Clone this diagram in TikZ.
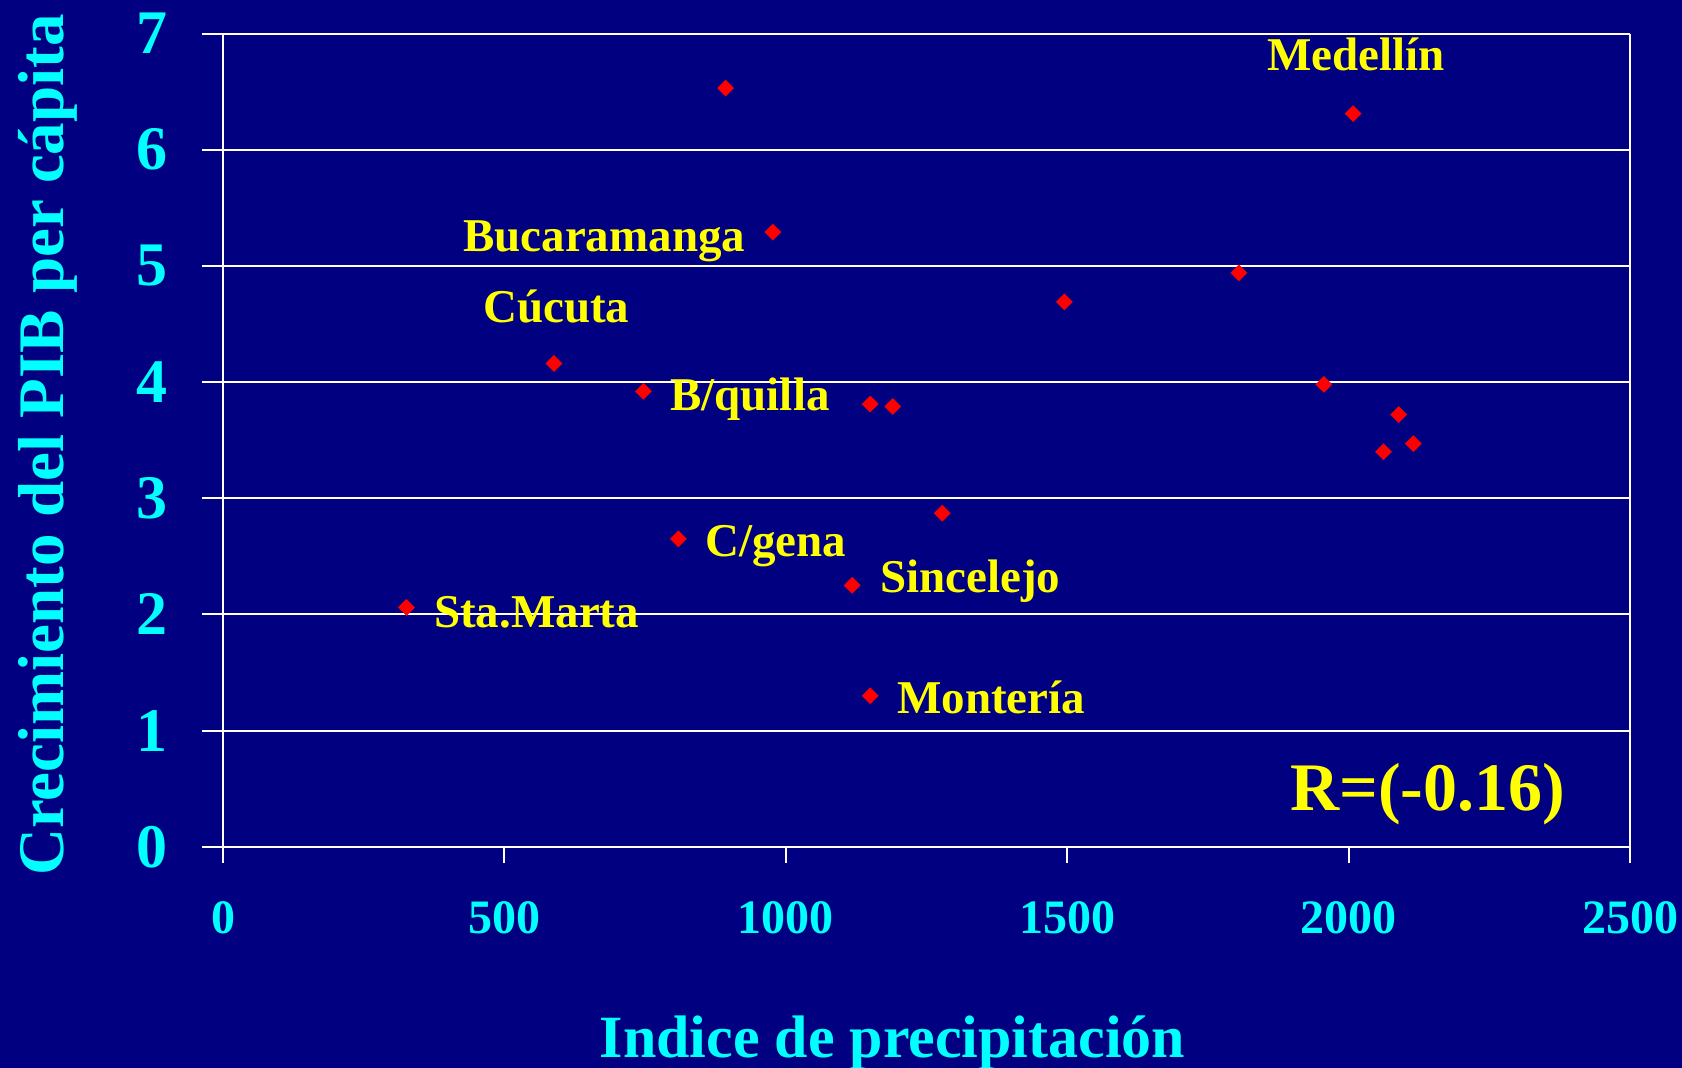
\documentclass[tikz,border=0pt]{standalone}
\usepackage{fontspec}
\setmainfont{Liberation Serif}
\usepackage{tikz}
\usetikzlibrary{shapes.geometric,positioning}
\definecolor{fondo}{RGB}{0,0,128}
\definecolor{cian}{RGB}{0,255,255}
\definecolor{amarillo}{RGB}{255,255,0}
\tikzset{
  rejilla/.style={draw=white, line width=2pt},
  punto/.style={diamond, fill=red, inner sep=0pt, minimum size=17pt},
  ciudad/.style={anchor=base west, inner sep=0pt, text=amarillo, font=\bfseries\fontsize{47}{56}\selectfont},
  marcay/.style={anchor=east, inner sep=0pt, text=cian, font=\bfseries\fontsize{62}{70}\selectfont},
  marcax/.style={anchor=base, inner sep=0pt, text=cian, font=\bfseries\fontsize{48}{56}\selectfont},
}

\begin{document}
\begin{tikzpicture}[x=1pt, y=-1pt]
		\useasboundingbox (0,0) rectangle (1682,1068);
		\fill[fondo] (0,0) rectangle (1682,1068);
		\begin{scope}[shift={(223,846.7)}, xscale=0.5628, yscale=-116.17]
			\foreach \v in {0,...,7}
				\draw[rejilla] (-37.3,\v) -- (2500,\v);
			\draw[rejilla] (0,-0.138) -- (0,7);
			\draw[rejilla] (2500,-0.138) -- (2500,7);
			\foreach \u in {500,1000,1500,2000}
				\draw[rejilla] (\u,-0.138) -- (\u,0);
			\foreach \v in {0,...,7}
				\node[marcay] (ey\v) at (-97.7,\v) {\v};
			\foreach \u in {0,500,...,2500}
				\node[marcax] (ex\u) at (\u,-0.751) {\u};
			\node[punto] (p1) at (893,6.53) {};
			\node[punto] (medellin) at (2008,6.31) {};
			\node[punto] (bucaramanga) at (977,5.29) {};
			\node[punto] (p4) at (1805,4.94) {};
			\node[punto] (p5) at (1495,4.69) {};
			\node[punto] (cucuta) at (588,4.16) {};
			\node[punto] (barranquilla) at (747,3.92) {};
			\node[punto] (p8) at (1150,3.81) {};
			\node[punto] (p9) at (1190,3.79) {};
			\node[punto] (p10) at (1956,3.98) {};
			\node[punto] (p11) at (2089,3.72) {};
			\node[punto] (p12) at (2115,3.47) {};
			\node[punto] (p13) at (2062,3.40) {};
			\node[punto] (p14) at (1278,2.87) {};
			\node[punto] (cartagena) at (809,2.65) {};
			\node[punto] (sincelejo) at (1118,2.25) {};
			\node[punto] (santamarta) at (326,2.06) {};
			\node[punto] (monteria) at (1150,1.30) {};
		\end{scope}
		\node[ciudad] (lmedellin) at (1267,70) {Medellín};
		\node[ciudad] (lbucaramanga) at (463,251) {Bucaramanga};
		\node[ciudad] (lcucuta) at (483,322) {Cúcuta};
		\node[ciudad] (lbarranquilla) at (670,410) {B/quilla};
		\node[ciudad] (lcartagena) at (705,556) {C/gena};
		\node[ciudad] (lsincelejo) at (880,592) {Sincelejo};
		\node[ciudad] (lsantamarta) at (434,627) {Sta.Marta};
		\node[ciudad] (lmonteria) at (897,713) {Montería};
		\node[anchor=base west, inner sep=0pt, text=amarillo, font=\bfseries\fontsize{68}{76}\selectfont] (erre) at (1290,810) {R=(-0.16)};
		\node[anchor=base, inner sep=0pt, text=cian, font=\bfseries\fontsize{60}{70}\selectfont] (titulox) at (892.5,1057) {Indice de precipitación};
		\node[anchor=base, rotate=90, inner sep=0pt, text=cian, font=\bfseries\fontsize{65}{74}\selectfont] (tituloy) at (63,445) {Crecimiento del PIB per cápita};
\end{tikzpicture}
\end{document}
